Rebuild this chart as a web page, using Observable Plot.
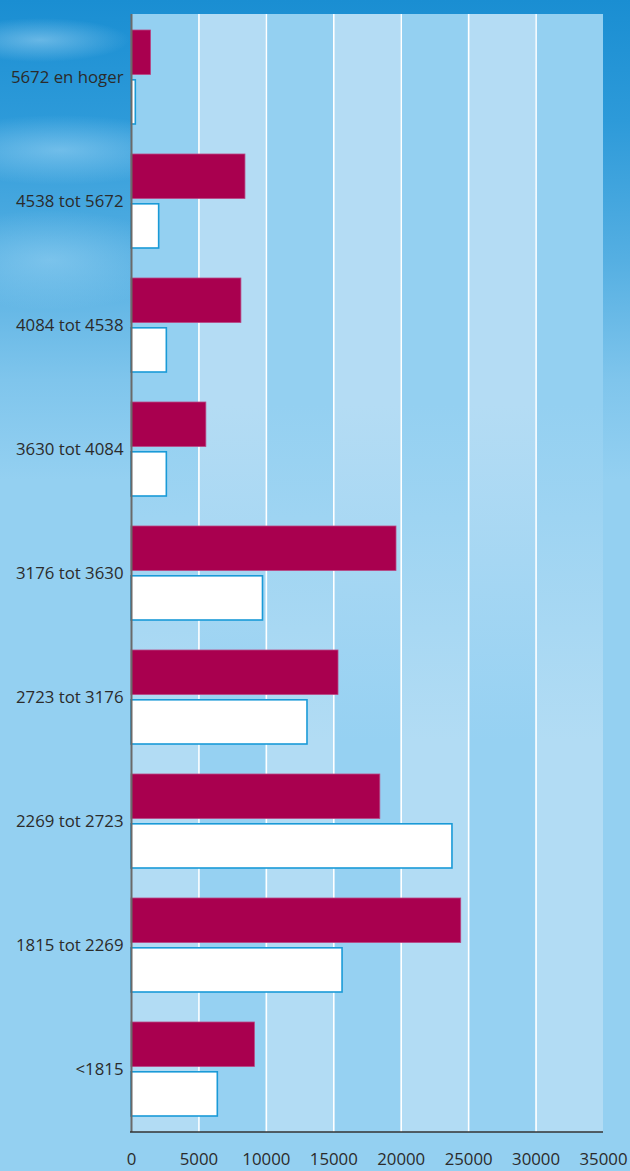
<!DOCTYPE html>
<html>
<head>
<meta charset="utf-8">
<script src="https://cdn.jsdelivr.net/npm/d3@7"></script>
<script src="https://cdn.jsdelivr.net/npm/@observablehq/plot@0.6"></script>
<style>
  html, body { margin: 0; padding: 0; }
  body {
    width: 630px; height: 1171px; overflow: hidden;
    background:
      radial-gradient(ellipse 90px 22px at 40px 40px, rgba(190,228,250,0.45), rgba(190,228,250,0) 100%),
      radial-gradient(ellipse 140px 35px at 60px 150px, rgba(170,220,248,0.5), rgba(170,220,248,0) 100%),
      radial-gradient(ellipse 130px 50px at 50px 260px, rgba(160,215,245,0.5), rgba(160,215,245,0) 100%),
      linear-gradient(to bottom, #1a8ed2 0px, #2d9ad9 120px, #55afe2 260px, #7fc5ec 380px, #94d0f1 480px, #94d0f1 100%);
  }
  #chart svg { display: block; }
</style>
</head>
<body>
<div id="chart"></div>
<script>
const categories = ["5672 en hoger", "4538 tot 5672", "4084 tot 4538", "3630 tot 4084",
  "3176 tot 3630", "2723 tot 3176", "2269 tot 2723", "1815 tot 2269", "<1815"];
const seriesRed = [1450, 8450, 8150, 5550, 19650, 15350, 18450, 24450, 9150];
const seriesWhite = [320, 2050, 2620, 2620, 9750, 13050, 23800, 15650, 6400];
const xTicks = [0, 5000, 10000, 15000, 20000, 25000, 30000, 35000];

const redData = categories.map((c, i) => ({cat: c, value: seriesRed[i]}));
const whiteData = categories.map((c, i) => ({cat: c, value: seriesWhite[i]}));
const bands = xTicks.slice(0, -1).map((t, i) => ({x1: t, x2: xTicks[i + 1], grad: i % 2 === 0 ? "url(#gA)" : "url(#gB)"}));

const chart = Plot.plot({
  width: 630,
  height: 1171,
  marginLeft: 131,
  marginRight: 27,
  marginTop: 14,
  marginBottom: 39,
  style: {fontFamily: "'Open Sans', sans-serif", fontSize: "16.8px", color: "#2b2b2b", background: "transparent", overflow: "visible"},
  x: {domain: [0, 35000], ticks: xTicks, tickFormat: "d", tickSize: 0, tickPadding: 21, label: null},
  y: {domain: categories, paddingInner: 0.2415, paddingOuter: 0.12, tickSize: 0, tickPadding: 8, label: null},
  color: {type: "identity"},
  marks: [
    Plot.rect(bands, {x1: "x1", x2: "x2", fill: d => d.grad}),
    Plot.ruleX(xTicks.slice(1, -1), {stroke: "#ffffff", strokeWidth: 1.6}),
    Plot.barX(redData, {x: "value", y: "cat", fill: "#a9004f", stroke: "#b84884", strokeWidth: 0.8, insetBottom: 49.5}),
    Plot.barX(whiteData, {x: "value", y: "cat", fill: "#ffffff", stroke: "#1a9ad7", strokeWidth: 1.6, insetTop: 49.8}),
    Plot.ruleX([0], {stroke: "#6a6a6a", strokeWidth: 2})
  ]
});

document.getElementById("chart").appendChild(chart);

const svg = d3.select(chart);
const defs = svg.insert("defs", ":first-child");
function grad(id, top, bottom) {
  const g = defs.append("linearGradient").attr("id", id).attr("x1", 0).attr("y1", 0).attr("x2", 0).attr("y2", 1);
  g.append("stop").attr("offset", "0%").attr("stop-color", top);
  g.append("stop").attr("offset", "35%").attr("stop-color", top);
  g.append("stop").attr("offset", "65%").attr("stop-color", bottom);
  g.append("stop").attr("offset", "100%").attr("stop-color", bottom);
}
grad("gA", "#94d0f1", "#b2dcf4");
grad("gB", "#b4dcf4", "#96d1f2");

// bottom axis line, positioned with the library's scales
const xs = chart.scale("x");
const yBottom = 1171 - 39;
svg.append("line")
  .attr("x1", xs.apply(0) - 1).attr("x2", xs.apply(35000))
  .attr("y1", yBottom).attr("y2", yBottom)
  .attr("stroke", "#333333").attr("stroke-width", 1.6);
</script>
</body>
</html>
